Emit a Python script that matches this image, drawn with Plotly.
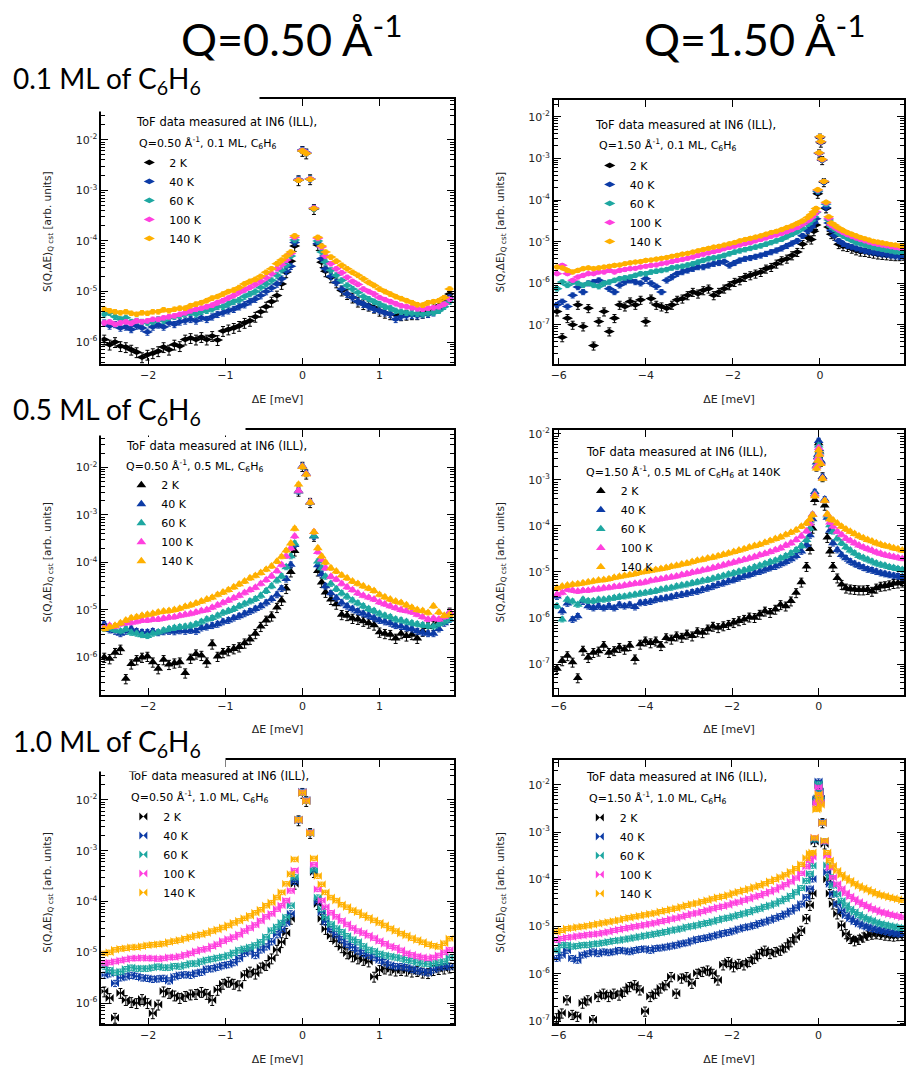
import plotly.graph_objects as go

W, H = 906, 1078

# ---------------- energy-transfer grids (meV) ----------------
E_Q050 = [-2.57, -2.50, -2.43, -2.36, -2.29, -2.22, -2.15, -2.08, -2.01, -1.94, -1.87, -1.80, -1.73,
          -1.66, -1.59, -1.52, -1.45, -1.38, -1.31, -1.24, -1.17, -1.10, -1.03, -0.96, -0.89, -0.82,
          -0.75, -0.68, -0.61, -0.54, -0.47, -0.40, -0.33,
          -0.27, -0.21, -0.15, -0.10, -0.05, 0.00, 0.05, 0.10, 0.15, 0.20, 0.25, 0.30,
          0.37, 0.44, 0.51, 0.58, 0.65, 0.72, 0.79, 0.86, 0.93, 1.00, 1.07, 1.14, 1.21, 1.28, 1.35,
          1.42, 1.49, 1.56, 1.63, 1.70, 1.77, 1.84, 1.91]

E_Q150 = [-6.04, -5.92, -5.80, -5.68, -5.56, -5.44, -5.32, -5.20, -5.08, -4.96, -4.84, -4.72, -4.60,
          -4.48, -4.36, -4.24, -4.12, -4.00, -3.88, -3.76, -3.64, -3.52, -3.40, -3.28, -3.16, -3.04,
          -2.92, -2.80, -2.68, -2.56, -2.44, -2.32, -2.20, -2.08, -1.96, -1.84, -1.72, -1.60, -1.48,
          -1.36, -1.24, -1.12, -1.00, -0.88, -0.76, -0.64, -0.52, -0.40, -0.28,
          -0.20, -0.14, -0.09, -0.05, -0.02, 0.00, 0.02, 0.05, 0.09, 0.14, 0.20, 0.26,
          0.33, 0.43, 0.53, 0.63, 0.73, 0.83, 0.93, 1.03, 1.13, 1.23, 1.33, 1.43, 1.53, 1.63, 1.73,
          1.83, 1.93]

TEMPS = ["2 K", "40 K", "60 K", "100 K", "140 K"]
COLORS = ["#000000", "#0c3ba6", "#1ea7a1", "#ff40de", "#ffb000"]
REL_ERR = [0.22, 0.14, 0.12, 0.10, 0.10]

# ---------------- log10 S(Q,dE) ----------------
# Q = 0.50 A^-1, 0.1 ML
q05_01_2K = [-5.95, -6.05, -6.00, -6.08, -6.10, -6.15, -6.20, -6.30, -6.25, -6.22, -6.18, -6.10, -6.15, -6.05, -6.08, -5.95, -5.92, -5.95, -5.90, -5.95, -5.88, -5.96, -5.78, -5.75, -5.72, -5.68, -5.62, -5.58, -5.50, -5.40, -5.30, -5.20, -5.08,
             -4.85, -4.62, -4.40, -4.10, -2.80, -2.22, -2.27, -2.78, -3.37, -4.08, -4.42, -4.60,
             -4.72, -4.82, -4.98, -5.05, -5.12, -5.20, -5.25, -5.28, -5.32, -5.38, -5.42, -5.45, -5.46, -5.47, -5.46, -5.45, -5.45, -5.42, -5.40, -5.33, -5.28, -5.18, -5.05]
q05_01_40K = [-5.62, -5.68, -5.65, -5.72, -5.70, -5.75, -5.68, -5.72, -5.80, -5.70, -5.66, -5.70, -5.62, -5.65, -5.60, -5.58, -5.55, -5.58, -5.52, -5.55, -5.50, -5.45, -5.42, -5.38, -5.35, -5.30, -5.26, -5.20, -5.15, -5.08, -5.00, -4.93, -4.85,
              -4.75, -4.60, -4.50, -4.03, -2.78, -2.20, -2.25, -2.77, -3.35, -4.05, -4.35, -4.55,
              -4.70, -4.82, -4.95, -5.05, -5.12, -5.20, -5.25, -5.30, -5.35, -5.38, -5.42, -5.45, -5.55, -5.50, -5.48, -5.47, -5.48, -5.46, -5.45, -5.42, -5.35, -5.25, -5.12]
q05_01_60K = [-5.45, -5.42, -5.50, -5.55, -5.52, -5.60, -5.58, -5.60, -5.62, -5.60, -5.55, -5.58, -5.52, -5.50, -5.48, -5.45, -5.42, -5.45, -5.40, -5.38, -5.35, -5.30, -5.30, -5.25, -5.20, -5.17, -5.10, -5.05, -5.00, -4.92, -4.85, -4.78, -4.68,
              -4.58, -4.48, -4.30, -3.98, -2.79, -2.21, -2.26, -2.77, -3.36, -4.00, -4.22, -4.42,
              -4.58, -4.68, -4.78, -4.88, -4.95, -5.02, -5.10, -5.15, -5.20, -5.25, -5.30, -5.33, -5.38, -5.40, -5.42, -5.43, -5.44, -5.45, -5.43, -5.42, -5.38, -5.30, -5.20]
q05_01_100K = [-5.62, -5.60, -5.65, -5.62, -5.60, -5.63, -5.58, -5.60, -5.58, -5.55, -5.55, -5.52, -5.50, -5.48, -5.45, -5.42, -5.38, -5.35, -5.33, -5.30, -5.27, -5.22, -5.18, -5.13, -5.08, -5.02, -4.97, -4.92, -4.86, -4.80, -4.73, -4.65, -4.55,
               -4.47, -4.38, -4.25, -3.93, -2.79, -2.21, -2.26, -2.77, -3.35, -3.95, -4.12, -4.30,
               -4.45, -4.55, -4.63, -4.72, -4.80, -4.86, -4.95, -5.00, -5.05, -5.12, -5.16, -5.20, -5.24, -5.28, -5.30, -5.32, -5.34, -5.35, -5.33, -5.32, -5.30, -5.25, -5.15]
q05_01_140K = [-5.35, -5.38, -5.40, -5.42, -5.40, -5.43, -5.45, -5.42, -5.43, -5.40, -5.40, -5.36, -5.38, -5.35, -5.33, -5.33, -5.28, -5.25, -5.22, -5.18, -5.13, -5.10, -5.05, -5.00, -4.97, -4.92, -4.85, -4.80, -4.76, -4.70, -4.62, -4.55, -4.45,
               -4.38, -4.30, -4.22, -3.90, -2.80, -2.22, -2.27, -2.78, -3.36, -3.93, -4.10, -4.22,
               -4.32, -4.40, -4.48, -4.55, -4.62, -4.68, -4.75, -4.82, -4.88, -4.95, -5.00, -5.05, -5.10, -5.14, -5.18, -5.22, -5.26, -5.27, -5.22, -5.20, -5.18, -5.12, -4.95]

# Q = 0.50 A^-1, 0.5 ML
q05_05_2K = [-6.00, -6.03, -5.90, -5.83, -6.45, -6.14, -6.05, -6.00, -5.98, -6.10, -6.24, -6.05, -6.15, -6.12, -6.10, -6.33, -6.02, -5.93, -5.96, -6.10, -5.72, -5.98, -5.90, -5.86, -5.82, -5.78, -5.70, -5.62, -5.50, -5.35, -5.22, -5.13, -4.95,
             -4.80, -4.55, -4.20, -3.76, -2.50, -1.98, -2.14, -2.74, -3.45, -4.18, -4.42, -4.63,
             -4.78, -4.88, -5.10, -5.12, -5.18, -5.20, -5.24, -5.28, -5.32, -5.47, -5.50, -5.52, -5.60, -5.50, -5.55, -5.52, -5.60, -5.45, -5.36, -5.33, -5.25, -5.18, -5.05]
q05_05_40K = [-5.30, -5.42, -5.45, -5.50, -5.45, -5.40, -5.45, -5.47, -5.47, -5.45, -5.48, -5.46, -5.45, -5.46, -5.44, -5.45, -5.43, -5.45, -5.38, -5.36, -5.33, -5.30, -5.25, -5.22, -5.17, -5.13, -5.08, -5.03, -4.98, -4.92, -4.85, -4.77, -4.68,
              -4.55, -4.35, -4.05, -3.63, -2.50, -1.97, -2.13, -2.73, -3.45, -4.06, -4.25, -4.50,
              -4.65, -4.75, -4.85, -4.92, -4.98, -5.03, -5.08, -5.12, -5.17, -5.22, -5.25, -5.28, -5.33, -5.35, -5.38, -5.40, -5.45, -5.48, -5.50, -5.50, -5.40, -5.28, -5.20]
q05_05_60K = [-5.40, -5.38, -5.42, -5.45, -5.40, -5.48, -5.50, -5.53, -5.55, -5.50, -5.47, -5.43, -5.40, -5.38, -5.36, -5.35, -5.33, -5.30, -5.25, -5.20, -5.17, -5.12, -5.06, -5.02, -4.98, -4.92, -4.87, -4.82, -4.77, -4.70, -4.60, -4.50, -4.38,
              -4.29, -4.10, -3.87, -3.60, -2.49, -1.98, -2.14, -2.73, -3.44, -3.98, -4.12, -4.30,
              -4.45, -4.56, -4.65, -4.72, -4.80, -4.86, -4.92, -4.98, -5.02, -5.08, -5.12, -5.15, -5.20, -5.22, -5.25, -5.28, -5.30, -5.32, -5.34, -5.35, -5.30, -5.25, -5.20]
q05_05_100K = [-5.37, -5.33, -5.35, -5.30, -5.28, -5.27, -5.25, -5.22, -5.22, -5.20, -5.20, -5.18, -5.16, -5.15, -5.12, -5.10, -5.08, -5.05, -5.02, -5.00, -4.95, -4.90, -4.85, -4.80, -4.75, -4.70, -4.64, -4.58, -4.53, -4.45, -4.37, -4.29, -4.18,
               -4.05, -3.87, -3.70, -3.45, -2.49, -1.98, -2.14, -2.73, -3.36, -3.78, -3.94, -4.12,
               -4.30, -4.36, -4.45, -4.52, -4.58, -4.65, -4.70, -4.74, -4.78, -4.84, -4.88, -4.92, -4.96, -5.00, -5.02, -5.05, -5.10, -5.15, -5.20, -5.18, -5.20, -5.15, -5.05]
q05_05_140K = [-5.40, -5.36, -5.33, -5.28, -5.22, -5.17, -5.15, -5.12, -5.10, -5.08, -5.05, -5.03, -5.02, -5.00, -4.97, -4.93, -4.90, -4.86, -4.82, -4.78, -4.74, -4.68, -4.63, -4.58, -4.52, -4.46, -4.40, -4.33, -4.28, -4.22, -4.15, -4.08, -3.98,
               -3.88, -3.75, -3.60, -3.29, -2.36, -1.99, -2.15, -2.74, -3.36, -3.70, -3.87, -4.00,
               -4.12, -4.19, -4.27, -4.33, -4.40, -4.45, -4.50, -4.55, -4.60, -4.68, -4.73, -4.78, -4.82, -4.85, -4.90, -4.95, -5.00, -5.02, -5.06, -4.92, -5.05, -5.12, -5.10]

# Q = 0.50 A^-1, 1.0 ML
q05_10_2K = [-5.77, -5.90, -6.29, -5.80, -5.94, -5.98, -6.00, -5.92, -6.00, -6.20, -6.03, -5.77, -5.80, -5.85, -5.90, -5.86, -5.83, -5.82, -5.78, -5.82, -5.94, -5.74, -5.62, -5.58, -5.62, -5.65, -5.45, -5.38, -5.42, -5.30, -5.25, -5.12, -4.95,
             -4.80, -4.62, -4.34, -3.65, -2.40, -1.86, -2.02, -2.65, -3.42, -4.05, -4.34, -4.54,
             -4.68, -4.78, -4.90, -5.02, -5.08, -5.12, -5.15, -5.18, -5.48, -5.35, -5.32, -5.34, -5.36, -5.35, -5.36, -5.38, -5.37, -5.40, -5.41, -5.35, -5.33, -5.32, -5.30]
q05_10_40K = [-5.45, -5.42, -5.61, -5.50, -5.48, -5.45, -5.47, -5.50, -5.51, -5.53, -5.52, -5.51, -5.56, -5.48, -5.45, -5.44, -5.45, -5.41, -5.39, -5.33, -5.32, -5.29, -5.26, -5.24, -5.20, -5.12, -5.02, -4.97, -5.06, -4.95, -4.89, -4.79, -4.65,
              -4.55, -4.42, -4.24, -3.60, -2.39, -1.84, -2.00, -2.64, -3.39, -4.00, -4.21, -4.40,
              -4.55, -4.65, -4.75, -4.84, -4.90, -4.97, -5.02, -5.06, -5.10, -5.15, -5.20, -5.25, -5.28, -5.28, -5.30, -5.33, -5.36, -5.38, -5.40, -5.34, -5.30, -5.28, -5.28]
q05_10_60K = [-5.28, -5.35, -5.40, -5.38, -5.33, -5.30, -5.32, -5.32, -5.32, -5.30, -5.28, -5.30, -5.30, -5.27, -5.28, -5.25, -5.22, -5.22, -5.18, -5.15, -5.13, -5.11, -5.09, -5.06, -5.01, -4.96, -4.93, -4.90, -4.86, -4.80, -4.70, -4.57, -4.50,
              -4.42, -4.31, -4.08, -3.52, -2.39, -1.85, -2.01, -2.64, -3.38, -3.92, -4.15, -4.31,
              -4.45, -4.53, -4.60, -4.68, -4.75, -4.80, -4.88, -4.95, -4.98, -5.03, -5.06, -5.08, -5.10, -5.12, -5.15, -5.17, -5.20, -5.22, -5.23, -5.22, -5.20, -5.18, -5.10]
q05_10_100K = [-5.22, -5.20, -5.18, -5.16, -5.14, -5.12, -5.12, -5.11, -5.12, -5.12, -5.13, -5.12, -5.10, -5.10, -5.08, -5.05, -5.02, -4.98, -4.95, -4.93, -4.88, -4.84, -4.78, -4.74, -4.70, -4.65, -4.58, -4.52, -4.46, -4.38, -4.30, -4.24, -4.15,
               -4.08, -3.98, -3.79, -3.39, -2.39, -1.85, -2.01, -2.64, -3.27, -3.76, -3.98, -4.11,
               -4.22, -4.30, -4.38, -4.45, -4.52, -4.58, -4.62, -4.67, -4.72, -4.78, -4.83, -4.88, -4.91, -4.96, -5.02, -5.05, -5.08, -5.10, -5.12, -5.10, -5.06, -5.00, -4.95]
q05_10_140K = [-5.02, -5.00, -4.95, -4.93, -4.92, -4.90, -4.90, -4.88, -4.86, -4.85, -4.84, -4.83, -4.80, -4.78, -4.76, -4.73, -4.70, -4.67, -4.65, -4.62, -4.58, -4.55, -4.51, -4.47, -4.42, -4.38, -4.33, -4.28, -4.22, -4.16, -4.08, -4.02, -3.92,
               -3.82, -3.65, -3.46, -3.17, -2.39, -1.86, -2.02, -2.65, -3.15, -3.50, -3.66, -3.82,
               -3.92, -3.98, -4.06, -4.11, -4.17, -4.21, -4.27, -4.32, -4.37, -4.42, -4.47, -4.53, -4.58, -4.63, -4.67, -4.72, -4.76, -4.80, -4.84, -4.87, -4.89, -4.82, -4.73]

# Q = 1.50 A^-1, 0.1 ML
q15_01_2K = [-6.68, -7.30, -6.84, -7.00, -6.52, -7.04, -6.60, -7.50, -6.92, -6.68, -7.16, -6.84, -6.52, -6.56, -6.44, -6.52, -6.40, -6.92, -6.37, -6.52, -6.56, -6.60, -6.52, -6.40, -6.37, -6.29, -6.21, -6.25, -6.17, -6.13, -6.29, -6.21, -6.13, -6.05, -5.97, -5.93, -5.85, -5.81, -5.77, -5.73, -5.65, -5.61, -5.53, -5.45, -5.41, -5.33, -5.25, -5.06, -4.90,
             -4.95, -4.75, -4.60, -3.85, -2.88, -2.50, -2.62, -3.04, -3.57, -4.20, -4.65, -4.82,
             -4.86, -5.06, -5.11, -5.13, -5.17, -5.21, -5.24, -5.25, -5.27, -5.29, -5.31, -5.32, -5.33, -5.34, -5.35, -5.35, -5.34]
q15_01_40K = [-6.52, -6.44, -6.56, -6.29, -6.09, -6.21, -6.00, -5.97, -5.93, -6.00, -6.13, -6.21, -6.05, -5.97, -5.93, -5.97, -6.00, -5.89, -6.00, -6.08, -6.21, -5.93, -5.85, -5.77, -5.73, -5.69, -5.65, -5.61, -5.61, -5.57, -5.53, -5.51, -5.48, -5.57, -5.51, -5.45, -5.41, -5.39, -5.36, -5.33, -5.29, -5.25, -5.21, -5.16, -5.10, -5.04, -4.98, -4.86, -4.74,
              -4.65, -4.55, -4.45, -3.80, -2.87, -2.48, -2.60, -3.03, -3.56, -4.18, -4.55, -4.72,
              -4.85, -4.98, -5.05, -5.10, -5.13, -5.16, -5.19, -5.22, -5.24, -5.26, -5.28, -5.30, -5.31, -5.33, -5.35, -5.36, -5.35]
q15_01_60K = [-6.13, -5.97, -6.05, -5.97, -6.00, -6.05, -6.00, -6.05, -6.08, -6.00, -5.97, -5.93, -5.89, -5.87, -5.85, -5.81, -5.77, -5.77, -5.73, -5.71, -5.69, -5.67, -5.63, -5.61, -5.59, -5.56, -5.53, -5.49, -5.45, -5.41, -5.39, -5.37, -5.33, -5.29, -5.25, -5.22, -5.19, -5.16, -5.13, -5.10, -5.06, -5.02, -4.98, -4.94, -4.88, -4.82, -4.76, -4.68, -4.58,
              -4.50, -4.40, -4.30, -3.78, -2.87, -2.48, -2.60, -3.03, -3.55, -4.10, -4.48, -4.64,
              -4.70, -4.80, -4.86, -4.92, -4.97, -5.02, -5.05, -5.08, -5.11, -5.14, -5.16, -5.18, -5.20, -5.22, -5.24, -5.25, -5.26]
q15_01_100K = [-5.77, -5.57, -5.77, -5.93, -5.85, -5.81, -5.77, -5.77, -5.73, -5.73, -5.69, -5.73, -5.69, -5.67, -5.65, -5.64, -5.61, -5.59, -5.57, -5.56, -5.53, -5.51, -5.48, -5.45, -5.43, -5.40, -5.37, -5.33, -5.30, -5.27, -5.24, -5.21, -5.17, -5.14, -5.11, -5.08, -5.05, -5.02, -4.98, -4.95, -4.91, -4.87, -4.84, -4.80, -4.76, -4.71, -4.66, -4.58, -4.50,
               -4.42, -4.35, -4.28, -3.76, -2.87, -2.48, -2.60, -3.03, -3.55, -4.07, -4.44, -4.60,
               -4.65, -4.72, -4.78, -4.83, -4.87, -4.91, -4.95, -4.98, -5.01, -5.04, -5.06, -5.08, -5.10, -5.12, -5.14, -5.15, -5.16]
q15_01_140K = [-5.61, -5.63, -5.69, -5.73, -5.69, -5.65, -5.63, -5.65, -5.63, -5.61, -5.59, -5.57, -5.56, -5.53, -5.51, -5.49, -5.48, -5.45, -5.44, -5.42, -5.40, -5.38, -5.35, -5.33, -5.30, -5.28, -5.25, -5.22, -5.19, -5.16, -5.13, -5.11, -5.08, -5.05, -5.02, -4.98, -4.95, -4.92, -4.89, -4.86, -4.82, -4.78, -4.75, -4.71, -4.66, -4.62, -4.56, -4.50, -4.42,
               -4.35, -4.28, -4.20, -3.75, -2.86, -2.47, -2.59, -3.02, -3.55, -4.05, -4.40, -4.55,
               -4.60, -4.67, -4.73, -4.78, -4.82, -4.86, -4.90, -4.93, -4.96, -4.99, -5.01, -5.03, -5.05, -5.07, -5.08, -5.10, -5.10]

# Q = 1.50 A^-1, 0.5 ML
q15_05_2K = [-7.10, -6.93, -6.82, -6.96, -7.30, -6.70, -6.86, -6.75, -6.72, -6.60, -6.75, -6.71, -6.64, -6.68, -6.60, -6.89, -6.57, -6.50, -6.54, -6.50, -6.60, -6.43, -6.46, -6.39, -6.42, -6.35, -6.39, -6.30, -6.32, -6.24, -6.18, -6.21, -6.17, -6.14, -6.10, -6.06, -6.03, -5.98, -5.99, -5.92, -5.85, -5.88, -5.81, -5.71, -5.74, -5.63, -5.45, -5.22, -4.88,
             -4.50, -4.05, -3.43, -2.70, -2.50, -2.20, -2.38, -2.60, -2.93, -3.55, -4.25, -4.55,
             -4.88, -5.13, -5.27, -5.35, -5.37, -5.38, -5.39, -5.39, -5.38, -5.42, -5.35, -5.31, -5.30, -5.28, -5.25, -5.24, -5.22]
q15_05_40K = [-5.53, -5.85, -5.68, -6.03, -5.96, -5.64, -5.74, -5.78, -5.74, -5.78, -5.74, -5.78, -5.71, -5.74, -5.71, -5.76, -5.67, -5.66, -5.64, -5.60, -5.58, -5.56, -5.54, -5.51, -5.49, -5.47, -5.44, -5.42, -5.38, -5.35, -5.31, -5.27, -5.24, -5.20, -5.17, -5.13, -5.09, -5.06, -5.02, -4.99, -4.95, -4.91, -4.88, -4.83, -4.78, -4.72, -4.65, -4.55, -4.41,
              -4.20, -3.85, -3.26, -2.62, -2.45, -2.15, -2.33, -2.58, -2.93, -3.42, -3.82, -4.10,
              -4.37, -4.52, -4.63, -4.70, -4.77, -4.82, -4.86, -4.90, -4.94, -4.96, -4.99, -5.02, -5.04, -5.06, -5.08, -5.09, -5.11]
q15_05_60K = [-5.74, -6.03, -5.60, -5.64, -5.71, -5.60, -5.63, -5.63, -5.60, -5.60, -5.58, -5.56, -5.54, -5.53, -5.51, -5.49, -5.47, -5.45, -5.43, -5.41, -5.38, -5.36, -5.34, -5.31, -5.29, -5.27, -5.24, -5.22, -5.19, -5.17, -5.14, -5.11, -5.08, -5.05, -5.02, -4.99, -4.96, -4.93, -4.89, -4.86, -4.82, -4.78, -4.75, -4.70, -4.65, -4.59, -4.52, -4.43, -4.30,
              -4.05, -3.75, -3.30, -2.68, -2.50, -2.25, -2.40, -2.62, -2.96, -3.45, -3.77, -3.98,
              -4.12, -4.27, -4.37, -4.46, -4.53, -4.59, -4.65, -4.69, -4.73, -4.77, -4.81, -4.84, -4.86, -4.89, -4.91, -4.93, -4.95]
q15_05_100K = [-5.49, -5.45, -5.38, -5.40, -5.42, -5.40, -5.40, -5.38, -5.37, -5.35, -5.34, -5.32, -5.31, -5.29, -5.27, -5.25, -5.24, -5.22, -5.19, -5.17, -5.15, -5.13, -5.11, -5.09, -5.06, -5.04, -5.01, -4.99, -4.96, -4.94, -4.91, -4.88, -4.85, -4.82, -4.79, -4.76, -4.73, -4.70, -4.67, -4.63, -4.60, -4.56, -4.52, -4.48, -4.42, -4.37, -4.30, -4.22, -4.11,
               -3.95, -3.75, -3.32, -2.70, -2.52, -2.30, -2.43, -2.63, -2.96, -3.45, -3.75, -3.92,
               -4.01, -4.12, -4.19, -4.27, -4.32, -4.37, -4.42, -4.46, -4.50, -4.53, -4.57, -4.60, -4.63, -4.65, -4.67, -4.69, -4.71]
q15_05_140K = [-5.35, -5.31, -5.29, -5.27, -5.26, -5.24, -5.22, -5.20, -5.18, -5.17, -5.15, -5.12, -5.10, -5.08, -5.06, -5.04, -5.01, -4.99, -4.97, -4.95, -4.93, -4.91, -4.88, -4.86, -4.83, -4.81, -4.78, -4.75, -4.73, -4.70, -4.68, -4.65, -4.62, -4.59, -4.56, -4.53, -4.50, -4.46, -4.43, -4.40, -4.36, -4.32, -4.28, -4.24, -4.19, -4.14, -4.09, -4.01, -3.94,
               -3.85, -3.76, -3.35, -2.75, -2.58, -2.35, -2.45, -2.65, -2.97, -3.45, -3.74, -3.85,
               -3.87, -3.94, -4.01, -4.07, -4.12, -4.17, -4.22, -4.26, -4.30, -4.33, -4.37, -4.40, -4.43, -4.45, -4.48, -4.50, -4.53]

# Q = 1.50 A^-1, 1.0 ML
q15_10_2K = [-6.93, -6.83, -6.55, -6.86, -6.90, -6.62, -6.55, -6.97, -6.48, -6.41, -6.48, -6.41, -6.45, -6.37, -6.27, -6.23, -6.34, -6.79, -6.48, -6.41, -6.30, -6.23, -6.06, -6.41, -6.09, -6.06, -6.20, -5.99, -5.95, -5.92, -5.99, -6.13, -5.81, -5.74, -5.85, -5.78, -5.81, -5.74, -5.67, -5.57, -5.50, -5.57, -5.53, -5.50, -5.43, -5.32, -5.22, -5.08, -4.83,
             -4.55, -4.30, -3.20, -2.35, -2.30, -2.00, -2.15, -2.30, -2.80, -3.25, -4.00, -4.30,
             -4.52, -4.73, -4.97, -5.15, -5.25, -5.30, -5.27, -5.22, -5.18, -5.16, -5.15, -5.16, -5.18, -5.19, -5.20, -5.19, -5.18]
q15_10_40K = [-5.67, -5.60, -5.50, -5.67, -5.71, -5.60, -5.57, -5.53, -5.57, -5.53, -5.55, -5.53, -5.50, -5.51, -5.53, -5.50, -5.48, -5.47, -5.50, -5.46, -5.45, -5.43, -5.41, -5.39, -5.36, -5.34, -5.30, -5.27, -5.25, -5.23, -5.20, -5.17, -5.14, -5.12, -5.09, -5.05, -5.02, -5.00, -4.97, -4.93, -4.90, -4.86, -4.82, -4.78, -4.73, -4.67, -4.60, -4.52, -4.38,
              -4.20, -3.99, -3.16, -2.31, -2.28, -1.93, -2.14, -2.30, -2.79, -3.20, -3.85, -4.10,
              -4.31, -4.52, -4.66, -4.76, -4.83, -4.89, -4.94, -4.98, -5.01, -5.04, -5.06, -5.08, -5.10, -5.12, -5.14, -5.15, -5.16]
q15_10_60K = [-5.50, -5.39, -5.39, -5.42, -5.41, -5.39, -5.39, -5.37, -5.36, -5.34, -5.32, -5.30, -5.29, -5.27, -5.25, -5.23, -5.21, -5.19, -5.17, -5.15, -5.13, -5.11, -5.08, -5.06, -5.04, -5.01, -4.99, -4.97, -4.94, -4.92, -4.89, -4.86, -4.83, -4.81, -4.78, -4.75, -4.72, -4.69, -4.65, -4.62, -4.58, -4.55, -4.51, -4.46, -4.41, -4.35, -4.27, -4.18, -4.03,
              -3.88, -3.71, -3.15, -2.35, -2.32, -1.98, -2.16, -2.33, -2.80, -3.20, -3.70, -3.95,
              -4.13, -4.31, -4.45, -4.55, -4.63, -4.69, -4.75, -4.80, -4.84, -4.87, -4.91, -4.94, -4.96, -4.98, -5.00, -5.02, -5.03]
q15_10_100K = [-5.29, -5.25, -5.23, -5.22, -5.20, -5.19, -5.17, -5.16, -5.15, -5.13, -5.11, -5.08, -5.06, -5.04, -5.02, -5.00, -4.98, -4.96, -4.94, -4.92, -4.89, -4.87, -4.84, -4.82, -4.79, -4.76, -4.73, -4.71, -4.68, -4.65, -4.62, -4.59, -4.57, -4.54, -4.50, -4.48, -4.44, -4.41, -4.37, -4.34, -4.30, -4.26, -4.22, -4.16, -4.11, -4.05, -3.97, -3.87, -3.73,
               -3.60, -3.52, -3.12, -2.40, -2.36, -2.05, -2.20, -2.38, -2.80, -3.20, -3.50, -3.75,
               -3.96, -4.10, -4.20, -4.29, -4.36, -4.42, -4.48, -4.53, -4.57, -4.62, -4.65, -4.69, -4.71, -4.74, -4.76, -4.78, -4.80]
q15_10_140K = [-5.11, -5.08, -5.04, -5.03, -5.01, -5.00, -4.98, -4.96, -4.94, -4.92, -4.90, -4.88, -4.86, -4.83, -4.81, -4.79, -4.77, -4.75, -4.73, -4.71, -4.68, -4.66, -4.63, -4.61, -4.58, -4.55, -4.52, -4.50, -4.47, -4.44, -4.41, -4.38, -4.36, -4.33, -4.29, -4.26, -4.23, -4.20, -4.16, -4.13, -4.09, -4.04, -4.00, -3.95, -3.90, -3.84, -3.77, -3.68, -3.55,
               -3.45, -3.43, -3.12, -2.52, -2.50, -2.20, -2.30, -2.42, -2.80, -3.18, -3.43, -3.60,
               -3.71, -3.82, -3.90, -3.97, -4.03, -4.09, -4.14, -4.18, -4.22, -4.26, -4.30, -4.33, -4.35, -4.38, -4.40, -4.42, -4.44]

# ---------------- panel descriptions ----------------
C6H6 = "C<sub>6</sub>H<sub>6</sub>"
PANELS = [
    dict(E=E_Q050, S=[q05_01_2K, q05_01_40K, q05_01_60K, q05_01_100K, q05_01_140K], sym="diamond-wide", msize=8,
         xr=[-2.606, 1.96], yr=[-6.44, -1.20], dtick=1, box=(98, 452, 96, 363),
         info="Q=0.50 Å<sup>-1</sup>, 0.1 ML, " + C6H6, hdr=(131, 119, 134, 140), leg=(148, 156)),
    dict(E=E_Q150, S=[q15_01_2K, q15_01_40K, q15_01_60K, q15_01_100K, q15_01_140K], sym="diamond-wide", msize=8,
         xr=[-6.11, 1.93], yr=[-7.95, -1.60], dtick=2, box=(553, 905, 97, 363),
         info="Q=1.50 Å<sup>-1</sup>, 0.1 ML, " + C6H6, hdr=(592, 122, 596, 142), leg=(611, 159)),
    dict(E=E_Q050, S=[q05_05_2K, q05_05_40K, q05_05_60K, q05_05_100K, q05_05_140K], sym="triangle-up", msize=8.5,
         xr=[-2.606, 1.96], yr=[-6.79, -1.21], dtick=1, box=(98, 452, 429, 696),
         info="Q=0.50 Å<sup>-1</sup>, 0.5 ML, " + C6H6, hdr=(121, 445, 121, 465), leg=(140, 481)),
    dict(E=E_Q150, S=[q15_05_2K, q15_05_40K, q15_05_60K, q15_05_100K, q15_05_140K], sym="triangle-up", msize=8.5,
         xr=[-6.11, 1.97], yr=[-7.67, -1.91], dtick=2, box=(553, 905, 429, 696),
         info="Q=1.50 Å<sup>-1</sup>, 0.5 ML of " + C6H6 + " at 140K", hdr=(583, 451, 583, 471), leg=(602, 487)),
    dict(E=E_Q050, S=[q05_10_2K, q05_10_40K, q05_10_60K, q05_10_100K, q05_10_140K], sym="bowtie", msize=8,
         xr=[-2.606, 1.96], yr=[-6.42, -1.22], dtick=1, box=(98, 452, 762, 1028),
         info="Q=0.50 Å<sup>-1</sup>, 1.0 ML, " + C6H6, hdr=(123, 778, 126, 799), leg=(142, 815)),
    dict(E=E_Q150, S=[q15_10_2K, q15_10_40K, q15_10_60K, q15_10_100K, q15_10_140K], sym="bowtie", msize=8,
         xr=[-6.10, 1.97], yr=[-7.07, -1.48], dtick=2, box=(553, 905, 762, 1028),
         info="Q=1.50 Å<sup>-1</sup>, 1.0 ML, " + C6H6, hdr=(583, 779, 586, 800), leg=(601, 816)),
]


def fx(p):
    return p / W


def fy(p):
    return 1 - p / H


TXT = "DejaVu Sans"

fig = go.Figure()
layout = dict(width=W, height=H, margin=dict(l=0, r=0, t=0, b=0),
              paper_bgcolor="white", plot_bgcolor="white", showlegend=True)
annotations = []

for i, p in enumerate(PANELS, start=1):
    sfx = "" if i == 1 else str(i)
    legname = "legend" + sfx
    for k, (temp, col, rel) in enumerate(zip(TEMPS, COLORS, REL_ERR)):
        logs = p["S"][k]
        assert len(logs) == len(p["E"]), (i, temp, len(logs), len(p["E"]))
        y = [10.0 ** v for v in logs]
        fig.add_trace(go.Scatter(
            x=p["E"], y=y, mode="markers", name=temp,
            xaxis="x" + sfx, yaxis="y" + sfx, legend=legname,
            marker=dict(symbol=p["sym"], size=p["msize"], color=col, line=dict(width=0)),
            error_y=dict(type="data", array=[v * rel for v in y], color=col, thickness=1, width=2),
        ))
    lo, hi = p["yr"]
    dec = [e for e in range(-9, 0) if lo <= e <= hi]
    major_vals = [10.0 ** e for e in dec]
    major_text = ["10<sup>%d</sup>" % e for e in dec]
    minor_vals = [m * 10.0 ** e for e in range(-9, 0) for m in range(2, 10)
                  if 10.0 ** lo <= m * 10.0 ** e <= 10.0 ** hi]
    x0, x1, yt, yb = p["box"]
    layout["xaxis" + sfx] = dict(
        domain=[fx(x0), fx(x1)], range=p["xr"], anchor="y" + sfx, dtick=p["dtick"],
        ticks="inside", ticklen=7, tickwidth=1.2, tickcolor="black", mirror="ticks",
        showline=True, linecolor="black", linewidth=1.5, showgrid=False, zeroline=False,
        tickfont=dict(family=TXT, size=11, color="#222"),
        title=dict(text="ΔE [meV]", standoff=14, font=dict(family=TXT, size=11, color="#222")))
    layout["yaxis" + sfx] = dict(
        domain=[fy(yb), fy(yt)], type="log", range=p["yr"], anchor="x" + sfx,
        tickmode="array", tickvals=major_vals, ticktext=major_text,
        ticks="inside", ticklen=7, tickwidth=1.2, tickcolor="black", mirror="ticks",
        minor=dict(tickmode="array", tickvals=minor_vals, ticks="inside", ticklen=4,
                   tickcolor="black", tickwidth=1, showgrid=False),
        showline=True, linecolor="black", linewidth=1.5, showgrid=False, zeroline=False,
        tickfont=dict(family=TXT, size=11, color="#222"),
        title=dict(text="S(Q,ΔE)<sub>Q cst</sub> [arb. units]", standoff=22,
                   font=dict(family=TXT, size=10.5, color="#222")))
    sx, sy = p["leg"]
    layout[legname] = dict(x=fx(sx - 22), y=fy(sy - 11), xanchor="left", yanchor="top",
                           bgcolor="rgba(0,0,0,0)", borderwidth=0, tracegroupgap=0,
                           font=dict(family=TXT, size=11, color="black"))
    hx1, hy1, hx2, hy2 = p["hdr"]
    annotations.append(dict(text="ToF data measured at IN6 (ILL),", xref="paper", yref="paper",
                            x=fx(hx1), y=fy(hy1), xanchor="left", yanchor="middle", showarrow=False,
                            font=dict(family=TXT, size=11.5, color="black")))
    annotations.append(dict(text=p["info"], xref="paper", yref="paper",
                            x=fx(hx2), y=fy(hy2), xanchor="left", yanchor="middle", showarrow=False,
                            font=dict(family=TXT, size=11, color="black")))

# column headers
HEAD = "Lato"
for label, cx in [("Q=0.50 Å<sup>-1</sup>", 290), ("Q=1.50 Å<sup>-1</sup>", 755)]:
    annotations.append(dict(text=label, xref="paper", yref="paper", x=fx(cx), y=fy(32),
                            xanchor="center", yanchor="middle", showarrow=False,
                            font=dict(family=HEAD, size=45, color="black")))

# row labels (white boxes overlapping the panel frames, as in the original)
for label, top, wbox, hbox in [("0.1 ML of " + C6H6, 56, 246, 50),
                               ("0.5 ML of " + C6H6, 390, 232, 43),
                               ("1.0 ML of " + C6H6, 724, 212, 47)]:
    annotations.append(dict(text=label, xref="paper", yref="paper", x=fx(8), y=fy(top),
                            xanchor="left", yanchor="top", showarrow=False, align="left",
                            valign="top", width=wbox, height=hbox, bgcolor="white", borderpad=0,
                            font=dict(family=HEAD, size=28, color="black")))

layout["annotations"] = annotations
fig.update_layout(**layout)
fig.write_html("out.html")
